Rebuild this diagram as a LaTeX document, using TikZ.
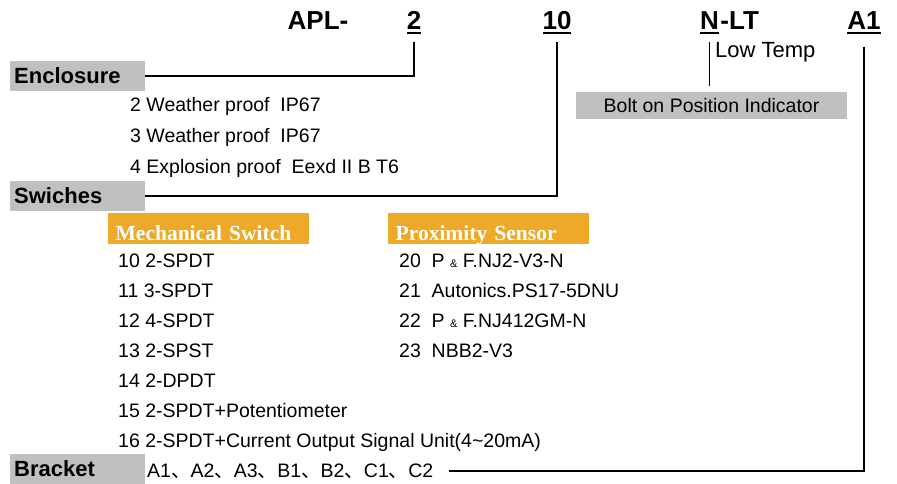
\documentclass[tikz,border=0pt]{standalone}
\usepackage{fontspec}
\setmainfont{Liberation Sans}
\newfontfamily\tabfont{Liberation Serif}
\newfontfamily\cjk{Noto Sans CJK SC}
\definecolor{boxgray}{RGB}{192,192,192}
\definecolor{taborange}{RGB}{237,169,39}
% underlined order code
\newcommand\codeul[1]{\setbox0\hbox{#1}\rlap{\rule[-4.5pt]{\wd0}{2.4pt}}\box0}
\newcommand\amp{{\fontsize{11}{11}\selectfont\&}}
\newcommand\dun{{\cjk 、}}

\begin{document}
\begin{tikzpicture}[x=1pt,y=-1pt,
  code/.style={font=\bfseries\fontsize{26}{27}\selectfont,anchor=base,inner xsep=1pt,inner ysep=7pt},
  head/.style={fill=boxgray,anchor=north west,font=\bfseries\fontsize{22}{24}\selectfont,
    text width=127pt,inner xsep=4pt,inner ysep=0pt,minimum height=30pt,text height=15pt,text depth=0pt},
  tab/.style={fill=taborange,text=white,anchor=north west,font=\tabfont\bfseries\fontsize{21.5}{23}\selectfont,
    text width=186pt,inner xsep=7.5pt,inner ysep=4pt,text height=23pt,text depth=0pt},
  item/.style={anchor=base west,inner sep=0pt,font=\fontsize{19.5}{22}\selectfont},
  link/.style={line width=1.8pt}]
\useasboundingbox (0,0) rectangle (897,484);

% order code
\node[code] (apl) at (318,30) {APL-};
\node[code] (c2) at (414,30) {\codeul{2}};
\node[code] (c10) at (557,30) {\codeul{10}};
\node[code,anchor=base west] (cn) at (699,30) {\codeul{N}};
\node[code,anchor=base west,inner xsep=0pt] (clt) at (cn.base east) {-LT};
\node[code] (ca1) at (864,30) {\codeul{A1}};
\node[item,font=\fontsize{22}{24}\selectfont] (lowt) at (715,58) {Low Temp};
\node[fill=boxgray,minimum width=271pt,minimum height=27pt,inner sep=0pt,
  font=\fontsize{19.5}{22}\selectfont] (bolt) at (711.5,105.5) {Bolt on Position Indicator};

% headings
\node[head] (enc) at (10,61) {Enclosure};
\node[head] (sw) at (10,181) {Swiches};
\node[head] (br) at (10,454) {Bracket};
\node[tab] (mech) at (108,213) {Mechanical Switch};
\node[tab] (prox) at (388,213) {Proximity Sensor};

\foreach \t [count=\i from 0] in {2 Weather proof\ \ IP67,3 Weather proof\ \ IP67,4 Explosion proof\ \ Eexd II B T6}
  \node[item] (e\i) at (130,112+30.5*\i) {\t};
\foreach \n/\t [count=\i from 0] in {10/2-SPDT,11/3-SPDT,12/4-SPDT,13/2-SPST,14/2-DPDT,
    15/2-SPDT+Potentiometer,16/{2-SPDT+Current Output Signal Unit(4\textasciitilde20mA)}}
  \node[item] (m\n) at (118,267+30*\i) {\n\ \t};
\foreach \n/\t [count=\i from 0] in {20/P \amp\ F.NJ2-V3-N,21/Autonics.PS17-5DNU,22/P \amp\ F.NJ412GM-N,23/NBB2-V3}
  \node[item] (p\n) at (399,267+30*\i) {\n\ \ \t};
\node[item] (brl) at (147,477) {A1\dun A2\dun A3\dun B1\dun B2\dun C1\dun C2};

% connectors
\draw[link] (c2.south) |- (enc.east);
\draw[link] (c10.south) |- (sw.east);
\draw[link,shorten >=6pt] (cn.south) -- (cn.south |- bolt.north);
\draw[link,shorten <=5pt,shorten >=15pt] (ca1.south) |- (brl.east);
\end{tikzpicture}
\end{document}
